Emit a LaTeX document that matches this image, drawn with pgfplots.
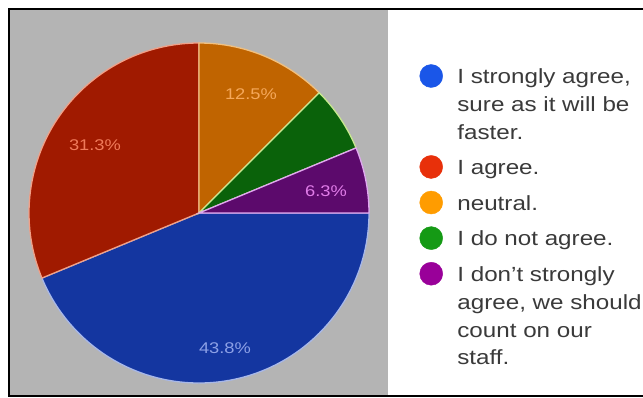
\documentclass[border=0pt]{standalone}
\usepackage{pgfplots}
\pgfplotsset{compat=1.18}
\usepackage{pgfplotstable}
\usepackage{fontspec}
\setmainfont{Liberation Sans}[FakeStretch=1.18]

\definecolor{bggray}{HTML}{B4B4B4}
\definecolor{sblue}{HTML}{1436A0}
\definecolor{sred}{HTML}{A01A00}
\definecolor{sorange}{HTML}{C06400}
\definecolor{sgreen}{HTML}{0A620A}
\definecolor{spurple}{HTML}{5C0A6C}
\definecolor{eblue}{HTML}{A8B8E8}
\definecolor{ered}{HTML}{F0A088}
\definecolor{eorange}{HTML}{F0C080}
\definecolor{egreen}{HTML}{C8E890}
\definecolor{epurple}{HTML}{E0A8F0}
\definecolor{lblue}{HTML}{8CA0E6}
\definecolor{lred}{HTML}{F07A5A}
\definecolor{lorange}{HTML}{F5A85A}
\definecolor{lpurple}{HTML}{E07CE8}
\definecolor{dblue}{HTML}{1A56E8}
\definecolor{dred}{HTML}{E8300A}
\definecolor{dorange}{HTML}{FF9C00}
\definecolor{dgreen}{HTML}{159A15}
\definecolor{dpurple}{HTML}{990099}
\definecolor{txt}{HTML}{3A3A3A}

% share of answers (percent), 16 answers: 7,5,2,1,1
\pgfplotstableread{
share
43.75
31.25
12.5
6.25
6.25
}\piedata

\newcommand\cumang{0}
\newcommand\mkslice[2]{%
  \pgfplotstablegetelem{#1}{share}\of\piedata
  \pgfmathsetmacro\tmpend{\cumang-3.6*\pgfplotsretval}%
  \expandafter\xdef\csname sliceS#2\endcsname{\cumang}%
  \expandafter\xdef\csname sliceE#2\endcsname{\tmpend}%
  \xdef\cumang{\tmpend}}
\mkslice{0}{A}\mkslice{1}{B}\mkslice{2}{C}\mkslice{3}{D}\mkslice{4}{E}

\newcommand\slice[3]{% name, fill, edge
  \fill[#2, draw=#3, line width=1.3bp] (axis cs:199,184) -- ++(\csname sliceS#1\endcsname:170bp)
    arc[start angle=\csname sliceS#1\endcsname, end angle=\csname sliceE#1\endcsname, radius=170bp] -- cycle;}

\begin{document}
\begin{tikzpicture}[x=1bp,y=1bp]
\path[use as bounding box] (0,0) rectangle (643,397);
\fill[white] (0,0) rectangle (643,397);
\fill[bggray] (9.5,2.5) rectangle (388,387);
\draw[black, line width=2.4bp] (8.7,1) rectangle (700,387.7);
\begin{axis}[
  x=1bp, y=1bp, at={(0bp,0bp)}, anchor=south west,
  xmin=0, xmax=643, ymin=0, ymax=397,
  hide axis, clip=false,
  legend style={at={(axis cs:419.5,342.7)}, anchor=north west,
    draw=none, fill=none, inner sep=0pt, outer sep=0pt,
    row sep=2.2bp, column sep=12.5bp,
    cells={anchor=base west, inner sep=0pt, outer sep=0pt},
    font=\fontsize{20.5bp}{24bp}\selectfont, text=txt},
]
\slice{A}{sblue}{eblue}
\slice{B}{sred}{ered}
\slice{C}{sorange}{eorange}
\slice{D}{sgreen}{egreen}
\slice{E}{spurple}{epurple}

\node[lred, font=\fontsize{15.5bp}{18bp}\selectfont] at (axis cs:95,252) {31.3\%};
\node[lorange, font=\fontsize{15.5bp}{18bp}\selectfont] at (axis cs:251,303) {12.5\%};
\node[lpurple, font=\fontsize{15.5bp}{18bp}\selectfont] at (axis cs:326,206) {6.3\%};
\node[lblue, font=\fontsize{15.5bp}{18bp}\selectfont] at (axis cs:225,49) {43.8\%};

\addlegendimage{legend image code/.code={\fill[dblue] (11.5bp,7.5bp) circle[radius=11.5bp];}}
\addlegendentry{\rule[-8.3bp]{0pt}{35.5bp}I strongly agree,}
\addlegendimage{empty legend}
\addlegendentry{\rule[-8.3bp]{0pt}{28.3bp}sure as it will be}
\addlegendimage{empty legend}
\addlegendentry{\rule[-8.3bp]{0pt}{28.3bp}faster.}
\addlegendimage{legend image code/.code={\fill[dred] (11.5bp,7.5bp) circle[radius=11.5bp];}}
\addlegendentry{\rule[-8.3bp]{0pt}{35.5bp}I agree.}
\addlegendimage{legend image code/.code={\fill[dorange] (11.5bp,7.5bp) circle[radius=11.5bp];}}
\addlegendentry{\rule[-8.3bp]{0pt}{35.5bp}neutral.}
\addlegendimage{legend image code/.code={\fill[dgreen] (11.5bp,7.5bp) circle[radius=11.5bp];}}
\addlegendentry{\rule[-8.3bp]{0pt}{35.5bp}I do not agree.}
\addlegendimage{legend image code/.code={\fill[dpurple] (11.5bp,7.5bp) circle[radius=11.5bp];}}
\addlegendentry{\rule[-8.3bp]{0pt}{35.5bp}I don't strongly}
\addlegendimage{empty legend}
\addlegendentry{\rule[-8.3bp]{0pt}{28.3bp}agree, we should}
\addlegendimage{empty legend}
\addlegendentry{\rule[-8.3bp]{0pt}{28.3bp}count on our}
\addlegendimage{empty legend}
\addlegendentry{\rule[-8.3bp]{0pt}{28.3bp}staff.}
\end{axis}
\end{tikzpicture}
\end{document}
